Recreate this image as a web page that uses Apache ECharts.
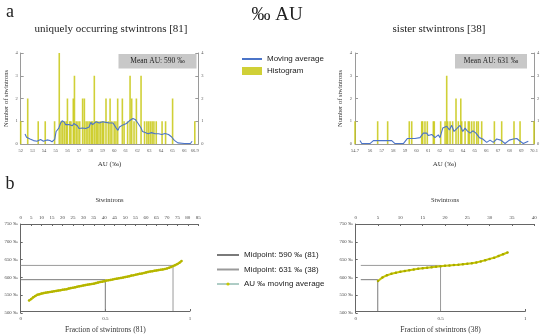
<!DOCTYPE html>
<html><head><meta charset="utf-8">
<script src="https://cdn.jsdelivr.net/npm/echarts@6/dist/echarts.min.js"></script>
<style>html,body{margin:0;padding:0;background:#fff}#c{width:550px;height:335px}</style>
</head><body><div id="c"></div>
<script>
const SERIF = '"Liberation Serif", "DejaVu Serif", serif';
const SANS = '"Liberation Sans", "DejaVu Sans", sans-serif';

// ---------- Panel a: histograms (AU %, count) ----------
const leftTicks = [52,53,54,55,56,57,58,59,60,61,62,63,64,65,66,66.9];
const rightTicks = [54.7,56,57,58,59,60,61,62,63,64,65,66,67,68,69,70.1];
const countTicks = [0,1,2,3,4];

const leftHist = [[52.0,1],[52.6,2],[53.5,1],[54.1,1],[54.9,1],[55.3,4],[55.45,1],[55.6,1],[55.75,1],[55.9,1],[56.0,2],[56.2,1],[56.3,1],[56.5,2],[56.6,3],[56.75,1],[56.9,1],[57.05,1],[57.3,2],[57.45,2],[57.6,1],[57.75,1],[57.9,1],[58.05,1],[58.15,1],[58.3,3],[58.45,1],[58.55,1],[58.7,1],[58.85,1],[59.0,1],[59.1,1],[59.3,2],[59.5,1],[59.65,2],[59.8,1],[60.0,1],[60.15,1],[60.3,2],[60.7,2],[60.85,1],[61.15,1],[61.36,3],[61.5,2],[61.7,1],[61.9,2],[62.3,3],[62.6,1],[62.8,1],[62.95,1],[63.1,1],[63.25,1],[63.4,1],[63.6,1],[64.1,1],[64.4,1],[65.0,2],[66.9,1]];

const leftAvg = [[52.37,0.44],[52.5,0.3],[52.6,0.26],[52.8,0.22],[52.95,0.2],[53.1,0.15],[53.24,0.11],[53.4,0.12],[53.53,0.14],[53.7,0.2],[53.82,0.17],[53.95,0.12],[54.11,0.1],[54.25,0.18],[54.39,0.24],[54.5,0.15],[54.68,0.1],[54.8,0.14],[54.91,0.2],[55.03,0.55],[55.15,0.62],[55.26,0.7],[55.4,0.9],[55.55,1.02],[55.65,1.1],[55.75,0.95],[55.84,0.85],[56.0,0.88],[56.13,0.86],[56.3,0.82],[56.42,0.8],[56.55,0.9],[56.71,0.9],[56.85,0.8],[56.99,0.68],[57.15,0.72],[57.28,0.7],[57.45,0.74],[57.57,0.68],[57.7,0.72],[57.86,0.75],[58.0,0.95],[58.15,0.85],[58.29,0.9],[58.45,0.98],[58.58,1.0],[58.72,0.92],[58.87,0.88],[59.0,0.98],[59.16,1.05],[59.3,0.95],[59.45,0.88],[59.6,0.92],[59.74,0.9],[59.9,0.92],[60.03,0.85],[60.15,0.72],[60.32,0.6],[60.45,0.75],[60.6,0.8],[60.75,0.84],[60.89,0.82],[61.05,0.9],[61.18,0.95],[61.3,1.02],[61.47,1.1],[61.6,1.12],[61.67,1.2],[61.8,1.08],[61.9,1.0],[62.05,0.9],[62.19,0.85],[62.3,0.7],[62.42,0.55],[62.6,0.52],[62.77,0.5],[62.9,0.45],[63.06,0.45],[63.2,0.5],[63.35,0.52],[63.5,0.45],[63.64,0.38],[63.8,0.45],[63.93,0.52],[64.08,0.42],[64.22,0.4],[64.35,0.46],[64.5,0.45],[64.65,0.42],[64.79,0.4],[64.9,0.32],[65.02,0.24],[65.15,0.16],[65.31,0.1],[65.45,0.05],[65.6,0.02],[66.0,0.02],[66.3,0.02],[66.53,0.02],[66.67,0.12]];

const rightHist = [[54.7,1],[56.65,1],[57.51,1],[59.37,1],[59.58,1],[60.44,1],[60.52,1],[60.72,1],[60.92,1],[61.44,1],[61.52,1],[62.07,1],[62.45,1],[62.59,3],[62.67,1],[62.88,1],[63.1,1],[63.39,2],[63.59,1],[63.8,2],[63.88,1],[64.17,1],[64.45,1],[64.54,1],[64.74,1],[64.94,1],[65.17,1],[65.31,1],[65.6,1],[66.69,1],[67.32,1],[68.38,1],[68.9,1],[70.1,1]];

const rightAvg = [[55.13,0.15],[55.28,0.02],[55.99,0.02],[56.28,0.15],[57.14,0.15],[57.86,0.15],[58.14,0.02],[58.86,0.02],[59.2,0.24],[59.86,0.24],[60.0,0.17],[60.29,0.28],[60.58,0.48],[60.87,0.48],[61.01,0.37],[61.3,0.42],[61.58,0.28],[61.87,0.4],[62.01,0.28],[62.25,0.7],[62.4,0.72],[62.59,0.78],[62.82,0.62],[63.02,0.82],[63.22,0.55],[63.5,0.7],[63.74,0.82],[63.97,0.55],[64.17,0.7],[64.36,0.58],[64.6,0.48],[64.83,0.58],[65.11,0.48],[65.4,0.28],[65.69,0.22],[66.03,0.07],[66.32,0.17],[66.6,0.07],[66.89,0.22],[67.24,0.17],[67.61,0.02],[67.98,0.17],[68.32,0.22],[68.62,0.24],[68.9,0.12],[69.18,0.02],[69.61,0.12]];

// ---------- Panel b: sorted moving averages (stwintron index -> AU ‰) ----------
const leftCount = 81, rightCount = 38;
const leftStartIndex = 4;
const leftCurve = [535,539,544,548,551,553,554.5,556,557,558,559,560,561,562,563,564,565,566,567,568.5,570,571,572,573.5,575,576,577.5,578.5,579.5,580.5,581.5,582.5,584,585.5,587,588,589.5,591,592,593,594,595.5,596.5,597.5,598.5,599.5,601,602,603.5,605,606,607.5,609,610,611,612.5,614,615.5,616.5,617.5,618.5,619.5,620.5,621.5,622.5,623.5,625,627,629.5,632,634.5,637.5,641.5,646];
const rightStartIndex = 5;
const rightCurve = [590,600,606,610,613,616,618,620,622,624,625.5,627,628.5,630,631,632.5,633.5,634.5,635.5,637,638.5,640,642,645,648,652,655,660,665,670];
// midpoint guide lines (fraction, AU ‰)
const leftMid590 = [[0,590],[0.5,590],[0.5,500]];
const leftMid631 = [[0,631],[0.9,631],[0.9,500]];
const rightMid590 = [[0.03,590],[0.13,590],[0.13,500]];
const rightMid631 = [[0.03,631],[0.5,631],[0.5,500]];

const histColor = '#c8c814';
const avgColor = '#4b74c8';
const curveColor = '#c8c800';
const axisGray = '#9a9a9a';
const axisDark = '#666';

const leftCurveData = leftCurve.map((v,i)=>[leftStartIndex+i, v]);
const rightCurveData = rightCurve.map((v,i)=>[rightStartIndex+i, v]);

function histX(min, max, ticks, gi) {
  return {type:'value', gridIndex:gi, min:min, max:max, name:'AU (‰)', nameLocation:'middle', nameGap:17,
    nameTextStyle:{fontFamily:SERIF, fontSize:7, color:'#333'},
    axisLine:{show:true, lineStyle:{color:axisGray, width:1}}, axisTick:{show:false},
    splitLine:{show:false},
    axisLabel:{customValues:ticks, fontFamily:SERIF, fontSize:4.5, color:'#555', margin:4, formatter:v=>String(v)}};
}
function histY(gi, pos, named) {
  return {type:'value', gridIndex:gi, position:pos, min:0, max:4, interval:1,
    name: named ? 'Number of stwintrons' : '', nameLocation:'middle', nameGap:11, nameRotate:90,
    nameTextStyle:{fontFamily:SERIF, fontSize:6.5, color:'#333'},
    axisLine:{show:true, lineStyle:{color:axisGray, width:1}},
    axisTick:{show:true, inside:true, length:3, lineStyle:{color:axisGray}},
    splitLine:{show:false},
    axisLabel:{fontFamily:SERIF, fontSize:4.5, color:'#555', margin:3}};
}
function topX(gi, max) {
  return {type:'value', gridIndex:gi, position:'top', min:0, max:max, interval:5,
    name:'Stwintrons', nameLocation:'middle', nameGap:20,
    nameTextStyle:{fontFamily:SERIF, fontSize:6.5, color:'#333'},
    axisLine:{show:true, lineStyle:{color:axisDark, width:1}},
    axisTick:{show:true, inside:true, length:2, lineStyle:{color:axisDark}},
    splitLine:{show:false},
    axisLabel:{fontFamily:SERIF, fontSize:5, color:'#444', margin:4}};
}
function fracX(gi, n) {
  return {type:'value', gridIndex:gi, position:'bottom', min:0, max:1, interval:0.5,
    name:'Fraction of stwintrons ('+n+')', nameLocation:'middle', nameGap:15,
    nameTextStyle:{fontFamily:SERIF, fontSize:7.5, color:'#333'},
    axisLine:{show:true, lineStyle:{color:axisDark, width:1}},
    axisTick:{show:true, inside:true, length:2, lineStyle:{color:axisDark}},
    splitLine:{show:false},
    axisLabel:{fontFamily:SERIF, fontSize:5, color:'#444', margin:5}};
}
function auY(gi, show) {
  return {type:'value', gridIndex:gi, min:500, max:750, interval:50, show:show,
    axisLine:{show:true, lineStyle:{color:axisDark, width:1}},
    axisTick:{show:true, inside:true, length:2, lineStyle:{color:axisDark}},
    splitLine:{show:false},
    axisLabel:{fontFamily:SERIF, fontSize:4.8, color:'#444', margin:3, formatter:v=>v+' ‰'}};
}

const chart = echarts.init(document.getElementById('c'), null, {renderer:'canvas'});
const gL = {left:20.7, w:177.6}, gR = {left:355.7, w:178.6};
const hideSym = {opacity:0};
const option = {
  animation:false,
  backgroundColor:'#fff',
  grid:[
    {left:20.7, top:53, width:177.6, height:91},
    {left:355, top:53, width:179, height:91},
    {left:gL.left, top:224, width:gL.w, height:89},
    {left:gL.left, top:224, width:gL.w*leftCount/85, height:89},
    {left:gR.left, top:224, width:gR.w, height:89},
    {left:gR.left, top:224, width:gR.w*rightCount/40, height:89}
  ],
  xAxis:[
    histX(52, 67.2, leftTicks, 0),
    histX(54.7, 70.1, rightTicks, 1),
    topX(2, 85),
    fracX(3, leftCount),
    topX(4, 40),
    fracX(5, rightCount)
  ],
  yAxis:[
    histY(0,'left',true), histY(0,'right',false),
    histY(1,'left',true), histY(1,'right',false),
    auY(2,true), auY(3,false), auY(4,true), auY(5,false)
  ],
  legend:[
    {data:[{name:'Moving average', itemStyle:hideSym},{name:'Histogram', icon:'rect'}],
     orient:'vertical', left:236, top:50, itemWidth:20, itemHeight:8, itemGap:4, selectedMode:false,
     textStyle:{fontFamily:SANS, fontSize:8, color:'#222'}},
    {data:[{name:'Midpoint: 590 ‰ (81)', itemStyle:hideSym},{name:'Midpoint: 631 ‰ (38)', itemStyle:hideSym},
           {name:'AU ‰ moving average', lineStyle:{color:'#5e9a8c', width:1}, itemStyle:{color:'#c8c800'}}],
     orient:'vertical', left:211, top:245, itemWidth:22, itemHeight:4, itemGap:4.5, selectedMode:false,
     textStyle:{fontFamily:SANS, fontSize:8, color:'#222', lineHeight:10}}
  ],
  series:[
    {name:'Histogram', type:'bar', xAxisIndex:0, yAxisIndex:0, data:leftHist, barWidth:1.6,
     itemStyle:{color:histColor, opacity:0.85}},
    {name:'Moving average', type:'line', xAxisIndex:0, yAxisIndex:0, data:leftAvg, symbol:'none',
     lineStyle:{color:avgColor, width:1.1}, itemStyle:{color:avgColor}, z:5},
    {name:'Histogram', type:'bar', xAxisIndex:1, yAxisIndex:2, data:rightHist, barWidth:1.6,
     itemStyle:{color:histColor, opacity:0.85}},
    {name:'Moving average', type:'line', xAxisIndex:1, yAxisIndex:2, data:rightAvg, symbol:'none',
     lineStyle:{color:avgColor, width:1.1}, itemStyle:{color:avgColor}, z:5},
    {name:'Midpoint: 590 ‰ (81)', type:'line', xAxisIndex:3, yAxisIndex:5, data:leftMid590, symbol:'none',
     lineStyle:{color:'#7a7a7a', width:1}, itemStyle:{color:'#7a7a7a'}},
    {name:'Midpoint: 631 ‰ (38)', type:'line', xAxisIndex:3, yAxisIndex:5, data:leftMid631, symbol:'none',
     lineStyle:{color:'#9a9a9a', width:1}, itemStyle:{color:'#9a9a9a'}},
    {name:'AU ‰ moving average', type:'line', xAxisIndex:2, yAxisIndex:4, data:leftCurveData,
     symbol:'circle', symbolSize:2.5, lineStyle:{color:curveColor, width:2.2}, itemStyle:{color:'#b4b400'}, z:6},
    {name:'Midpoint: 590 ‰ (81)', type:'line', xAxisIndex:5, yAxisIndex:7, data:rightMid590, symbol:'none',
     lineStyle:{color:'#7a7a7a', width:1}, itemStyle:{color:'#7a7a7a'}},
    {name:'Midpoint: 631 ‰ (38)', type:'line', xAxisIndex:5, yAxisIndex:7, data:rightMid631, symbol:'none',
     lineStyle:{color:'#9a9a9a', width:1}, itemStyle:{color:'#9a9a9a'}},
    {name:'AU ‰ moving average', type:'line', xAxisIndex:4, yAxisIndex:6, data:rightCurveData,
     symbol:'circle', symbolSize:2.5, lineStyle:{color:curveColor, width:2}, itemStyle:{color:'#a8a800'}, z:6}
  ],
  graphic:[
    {type:'text', x:10, y:12, style:{text:'a', font:'18px '+SERIF, fill:'#222', align:'center', verticalAlign:'middle'}},
    {type:'text', x:10, y:184, style:{text:'b', font:'18px '+SERIF, fill:'#222', align:'center', verticalAlign:'middle'}},
    {type:'text', x:277, y:15, style:{text:'‰ AU', font:'19px '+SERIF, fill:'#222', align:'center', verticalAlign:'middle'}},
    {type:'text', x:111, y:29.5, style:{text:'uniquely occurring stwintrons [81]', font:'11px '+SERIF, fill:'#222', align:'center', verticalAlign:'middle'}},
    {type:'text', x:439, y:29.5, style:{text:'sister stwintrons [38]', font:'11px '+SERIF, fill:'#222', align:'center', verticalAlign:'middle'}},
    {type:'rect', shape:{x:118.5, y:54, width:78, height:14.5}, style:{fill:'#c8c8c8'}},
    {type:'text', x:157.5, y:61.5, style:{text:'Mean AU: 590 ‰', font:'7.5px '+SERIF, fill:'#222', align:'center', verticalAlign:'middle'}},
    {type:'rect', shape:{x:455, y:54, width:72, height:14.5}, style:{fill:'#c8c8c8'}},
    {type:'text', x:491, y:61.5, style:{text:'Mean AU: 631 ‰', font:'7.5px '+SERIF, fill:'#222', align:'center', verticalAlign:'middle'}}
  ]
};
chart.setOption(option);
</script>
</body></html>
